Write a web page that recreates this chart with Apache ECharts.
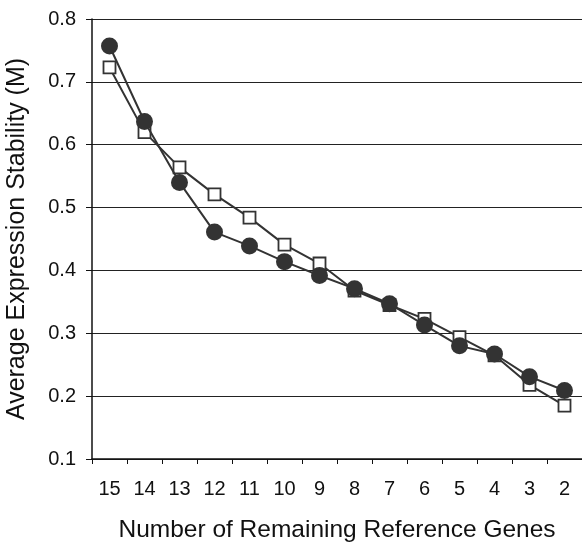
<!DOCTYPE html>
<html>
<head>
<meta charset="utf-8">
<script src="https://cdn.jsdelivr.net/npm/echarts@6/dist/echarts.min.js"></script>
<style>
html,body{margin:0;padding:0;background:#fff;}
#chart{width:582px;height:543px;}
</style>
</head>
<body>
<div id="chart"></div>
<script>
var categories = ['15','14','13','12','11','10','9','8','7','6','5','4','3','2'];
var circleValues = [0.757,0.637,0.540,0.461,0.439,0.414,0.392,0.371,0.347,0.313,0.280,0.267,0.231,0.209];
var squareValues = [0.723,0.620,0.564,0.521,0.484,0.441,0.411,0.368,0.345,0.323,0.294,0.265,0.218,0.185];
var xTitle = 'Number of Remaining Reference Genes';
var yTitle = 'Average Expression Stability (M)';

var FONT = "'Liberation Sans', Arial, sans-serif";
var chart = echarts.init(document.getElementById('chart'), null, {renderer:'canvas'});
chart.setOption({
  animation: false,
  backgroundColor: '#fff',
  grid: {left: 92, right: 0, top: 19, bottom: 84, containLabel: false, outerBoundsMode: 'none'},
  xAxis: {
    type: 'category',
    data: categories,
    boundaryGap: true,
    name: xTitle,
    nameLocation: 'middle',
    nameGap: 59,
    nameTextStyle: {fontFamily: FONT, fontSize: 24.5, color: '#111'},
    axisLine: {show: true, lineStyle: {color: '#111', width: 1.5}},
    axisTick: {show: true, length: 5, inside: false, lineStyle: {color: '#111', width: 1}},
    axisLabel: {fontFamily: FONT, fontSize: 20, color: '#111', margin: 20},
    splitLine: {show: false}
  },
  yAxis: {
    type: 'value',
    min: 0.1, max: 0.8, interval: 0.1,
    name: yTitle,
    nameLocation: 'middle',
    nameGap: 62,
    nameTextStyle: {fontFamily: FONT, fontSize: 25, color: '#111'},
    axisLine: {show: true, lineStyle: {color: '#111', width: 1.5}},
    axisTick: {show: true, length: 6, lineStyle: {color: '#111', width: 1}},
    axisLabel: {fontFamily: FONT, fontSize: 20, color: '#111', margin: 16,
      formatter: function(v){ return v.toFixed(1); }},
    splitLine: {show: true, lineStyle: {color: '#222', width: 1}}
  },
  series: [
    {
      name: 'Squares',
      type: 'line',
      data: squareValues,
      symbol: 'rect',
      symbolSize: 12,
      lineStyle: {color: '#333', width: 2},
      itemStyle: {color: '#fff', borderColor: '#333', borderWidth: 1.8},
      z: 2
    },
    {
      name: 'Circles',
      type: 'line',
      data: circleValues,
      symbol: 'circle',
      symbolSize: 17,
      lineStyle: {color: '#333', width: 2},
      itemStyle: {color: '#333', borderColor: '#333', borderWidth: 0},
      z: 3
    }
  ]
});
</script>
</body>
</html>
